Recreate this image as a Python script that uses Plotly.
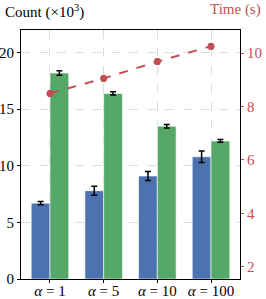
import plotly.graph_objects as go

categories = ["<i>α</i> = 1", "<i>α</i> = 5", "<i>α</i> = 10", "<i>α</i> = 100"]
count_blue = [6.7, 7.8, 9.1, 10.8]
count_blue_err = [0.15, 0.4, 0.4, 0.5]
count_green = [18.2, 16.4, 13.5, 12.2]
count_green_err = [0.2, 0.15, 0.15, 0.12]
time_s = [8.49, 9.05, 9.68, 10.25]
time_err = [0.1, 0.1, 0.1, 0.1]

BLUE = "#4C72B0"
GREEN = "#55A868"
RED = "#C44E52"
FONT = "Liberation Serif"

x = list(range(len(categories)))
fig = go.Figure()
fig.add_trace(go.Bar(
    x=x, y=count_blue, width=0.35, offset=-0.35,
    marker=dict(color=BLUE, line=dict(color="rgba(255,255,255,0.6)", width=1)),
    error_y=dict(type="data", array=count_blue_err, color="black", thickness=1.5, width=3),
    showlegend=False,
))
fig.add_trace(go.Bar(
    x=x, y=count_green, width=0.35, offset=0,
    marker=dict(color=GREEN, line=dict(color="rgba(255,255,255,0.6)", width=1)),
    error_y=dict(type="data", array=count_green_err, color="black", thickness=1.5, width=3),
    showlegend=False,
))
fig.add_trace(go.Scatter(
    x=x, y=time_s, yaxis="y2", mode="lines+markers",
    line=dict(color=RED, width=2, dash="dash"),
    marker=dict(color=RED, size=7, symbol="circle"),
    error_y=dict(type="data", array=time_err, color=RED, thickness=1.5, width=2),
    showlegend=False,
))

fig.update_layout(
    width=266, height=299,
    margin=dict(l=21, r=26, t=30, b=20, autoexpand=False),
    paper_bgcolor="white", plot_bgcolor="white",
    font=dict(family=FONT, size=15, color="black"),
    xaxis=dict(
        range=[-0.54, 3.54], tickvals=x, ticktext=categories,
        showgrid=True, gridcolor="#dddddd", griddash="dash", gridwidth=1,
        ticks="outside", ticklen=3, tickcolor="black",
        showline=True, linecolor="black", linewidth=1.2, mirror=True,
        zeroline=False, tickfont=dict(size=15), automargin=False,
    ),
    yaxis=dict(
        range=[0, 22], tickvals=[0, 5, 10, 15, 20],
        showgrid=True, gridcolor="#dddddd", griddash="dash", gridwidth=1,
        ticks="outside", ticklen=3, tickcolor="black",
        showline=True, linecolor="black", linewidth=1.2, mirror=True,
        zeroline=False, tickfont=dict(size=15), automargin=False,
    ),
    yaxis2=dict(
        overlaying="y", side="right", range=[1.55, 10.86],
        tickvals=[2, 4, 6, 8, 10], showgrid=False, zeroline=False,
        ticks="outside", ticklen=3, tickcolor=RED,
        tickfont=dict(size=15, color=RED),
        showline=False, automargin=False,
    ),
    annotations=[
        dict(text="Count (×10<sup>3</sup>)", xref="paper", yref="paper",
             x=-18/219, y=1.0, xanchor="left", yanchor="bottom", yshift=7,
             showarrow=False, font=dict(family=FONT, size=15, color="black")),
        dict(text="Time (s)", xref="paper", yref="paper",
             x=1 + 23/219, y=1.0, xanchor="right", yanchor="bottom", yshift=10,
             showarrow=False, font=dict(family=FONT, size=15, color=RED)),
    ],
)
try:
    fig.update_xaxes(ticklabelstandoff=-5)
except ValueError:
    pass

fig.write_html("out.html", config={"displayModeBar": False},
               post_script="document.body.style.margin='0';")
